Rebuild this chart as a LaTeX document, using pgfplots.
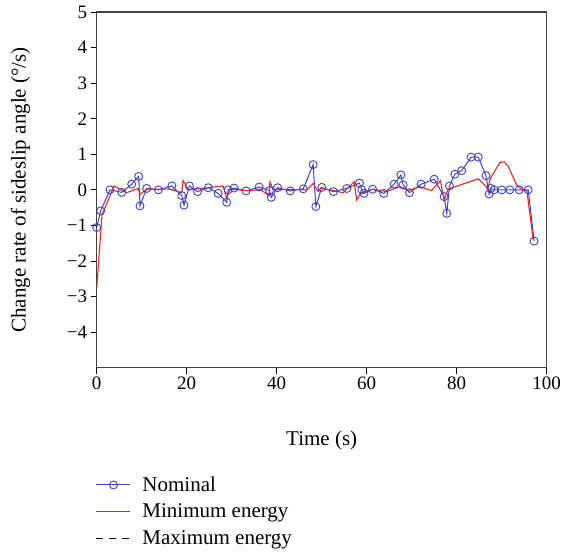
\documentclass[border=0pt]{standalone}
\usepackage{fontspec}
\setmainfont{Liberation Serif}
\usepackage{pgfplots}
\pgfplotsset{compat=1.18}
\definecolor{nomblue}{RGB}{60,64,200}
\definecolor{minred}{RGB}{228,38,30}
\begin{document}
\begin{tikzpicture}
\begin{axis}[
  scale only axis, width=450pt, height=355.7pt,
  xmin=0, xmax=100, ymin=-5, ymax=5,
  xtick={0,20,40,60,80,100}, xticklabels={0,20,40,60,80,100},
  ytick={-4,-3,-2,-1,0,1,2,3,4,5},
  yticklabels={−4,−3,−2,−1,0,1,2,3,4,5},
  tick align=outside, xtick pos=bottom, ytick pos=left,
  major tick length=6pt,
  axis line style={line width=1.1pt, color=black!75},
  tick style={line width=0.9pt, black},
  tick label style={font=\fontsize{19}{21}\selectfont},
  label style={font=\fontsize{21}{25}\selectfont},
  xlabel={Time (s)},
  ylabel={Change rate of sideslip angle (°/s)},
  xlabel style={yshift=-34pt},
  ylabel style={yshift=30pt},
  legend style={at={(rel axis cs:0,0)}, anchor=north west, yshift=-105pt, xshift=-4pt,
    draw=none, fill=none, font=\fontsize{21}{25}\selectfont, row sep=7pt,
    cells={anchor=west}},
  legend image code/.code={\draw[mark repeat=2,mark phase=2,#1] plot coordinates {(0pt,0pt) (17pt,0pt) (34pt,0pt)};\path[draw=none] (0pt,0pt) -- (44pt,0pt);},
]
\coordinate (sw) at (rel axis cs:0,0);
\addplot[color=nomblue, line width=1pt, mark=o, mark size=4pt, mark options={line width=0.9pt}, forget plot] coordinates {
(0,-1.06) (0.89,-0.59) (2.96,0.00) (5.56,-0.07) (7.78,0.16) (9.33,0.38) (9.62,-0.45)
(11.1,0.04) (13.7,0.00) (16.7,0.11) (18.9,-0.16) (19.4,-0.43) (20.6,0.11) (22.4,-0.05)
(24.8,0.06) (27.0,-0.10) (28.9,-0.35) (29.2,0.00) (30.5,0.05) (33.2,-0.03) (36.1,0.08)
(38.4,-0.02) (38.8,-0.21) (40.2,0.06) (43.0,-0.03) (45.9,0.03) (48.1,0.71) (48.7,-0.47)
(50.0,0.07) (52.6,-0.05) (55.6,0.04) (58.4,0.19) (58.9,0.00) (59.4,-0.10) (61.3,0.02)
(63.8,-0.10) (66.1,0.16) (67.6,0.42) (68.1,0.14) (69.5,-0.08) (72.1,0.16) (75.0,0.30)
(77.2,-0.19) (77.8,-0.66) (78.4,0.11) (79.6,0.44) (81.1,0.54) (83.2,0.92) (84.8,0.92)
(86.5,0.40) (87.2,-0.12) (87.6,0.04) (88.3,0.00) (90.0,0.00) (91.8,0.00) (93.9,0.00)
(95.9,0.00) (97.2,-1.44)
};
\addplot[color=minred, line width=1.1pt, mark=none, forget plot] coordinates {
(0,-2.77) (1.18,-0.71) (3.84,0.11) (6.67,-0.08) (9.24,0.04) (9.62,-0.13) (11.1,0.02)
(16.3,0.02) (18.9,-0.08) (19.2,0.26) (20.4,0.00) (28.1,0.11) (28.9,-0.24) (29.6,0.02)
(34.1,-0.03) (36.3,0.02) (38.3,-0.17) (38.5,0.22) (39.2,0.02) (46.7,0.00) (48.1,0.18)
(49.2,-0.05) (49.8,0.05) (54.8,-0.08) (57.2,0.23) (57.8,-0.29) (58.7,-0.08) (61.5,0.02)
(64.4,-0.05) (67.4,0.09) (69.2,-0.02) (71.8,0.09) (74.4,-0.02) (76.4,0.26) (77.2,-0.30)
(78.1,0.02) (84.8,0.31) (87.0,0.04) (87.4,0.30) (89.6,0.77) (90.6,0.79) (91.5,0.65)
(93.3,0.14) (94.8,-0.02) (95.6,-0.02) (97.0,-1.41)
};
\addlegendimage{draw=nomblue, line width=1pt, mark=o, mark size=4pt, mark options={draw=nomblue, line width=0.9pt}}
\addlegendentry{Nominal}
\addlegendimage{draw=minred, line width=1.1pt}
\addlegendentry{Minimum energy}
\addlegendimage{draw=black, line width=1pt, dash pattern=on 7pt off 6pt}
\addlegendentry{Maximum energy}
\end{axis}
\pgfresetboundingbox
\path[use as bounding box] ([shift={(-96.7pt,-186.3pt)}]sw) rectangle ++(562pt,554pt);
\end{tikzpicture}
\end{document}
